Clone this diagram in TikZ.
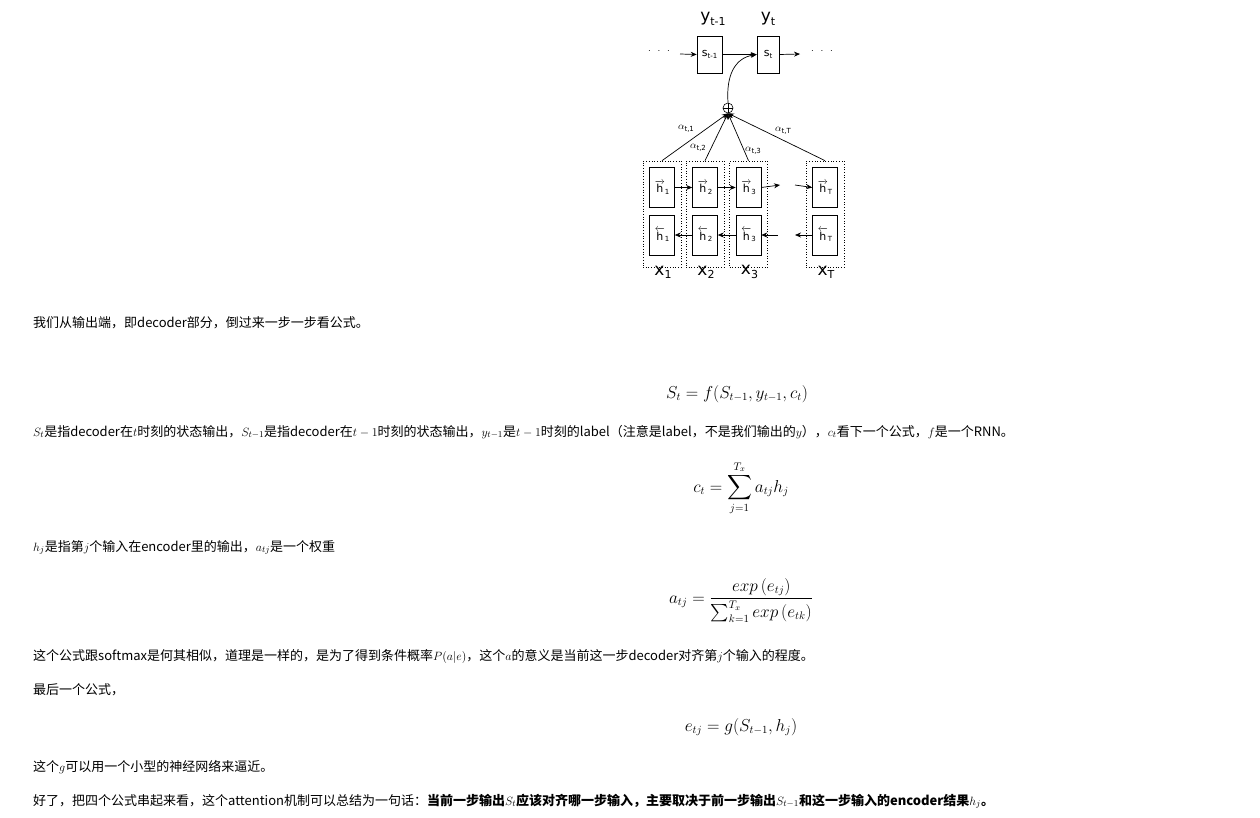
\documentclass[tikz,border=0pt]{standalone}
\usepackage[no-math]{fontspec}
\usepackage{amsmath}
\setmainfont{Noto Sans CJK SC}
\newfontfamily\dia{DejaVu Sans}
\usetikzlibrary{arrows.meta}
\newcommand\sbx[4]{{\fontsize{#3}{#3}\dia #1\raisebox{-0.35ex}{\fontsize{#4}{#4}\selectfont #2}}}
\newcommand\hr[1]{$\overrightarrow{\hbox{\fontsize{11}{11}\dia h}}$\raisebox{-0.3ex}{\fontsize{7}{7}\dia #1}}
\newcommand\hl[1]{$\overleftarrow{\hbox{\fontsize{11}{11}\dia h}}$\raisebox{-0.3ex}{\fontsize{7}{7}\dia #1}}
\tikzset{
 txt/.style={anchor=base west,inner sep=0pt,font=\fontsize{13}{15}\selectfont},
 eq/.style={anchor=base,inner sep=0pt,font=\fontsize{16}{18}\selectfont},
 cell/.style={draw,line width=0.6pt,minimum width=25pt,minimum height=40pt,inner sep=0pt},
 col/.style={draw,dotted,line width=0.7pt,minimum width=38pt,minimum height=106pt,inner sep=0pt},
 arr/.style={-{Stealth[length=6pt,width=5pt]},line width=0.7pt}
}
\begin{document}
\begin{tikzpicture}[x=1pt,y=-1pt]
\useasboundingbox (0,0) rectangle (1260,817);
\fill[white] (0,0) rectangle (1260,817);
% decoder
\node[cell,minimum width=25pt,minimum height=37pt] (s1) at (709.5,54.5) {\sbx{s}{t-1}{11}{7}};
\node[cell,minimum width=22pt,minimum height=37pt] (s2) at (768,54.5) {\sbx{s}{t}{11}{7}};
\node (y1) at (713,19) {\sbx{y}{t-1}{17}{11}};
\node (y2) at (768,19) {\sbx{y}{t}{17}{11}};
\node[inner sep=0pt,font=\fontsize{10}{10}\selectfont] (dl) at (659,51) {$\cdot\ \ \cdot\ \ \cdot$};
\node[inner sep=0pt,font=\fontsize{10}{10}\selectfont] (dr) at (822,51) {$\cdot\ \ \cdot\ \ \cdot$};
\coordinate (in1) at (680,54);
\coordinate (out2) at (800,54);
\draw[arr] (in1) -- (s1.west);
\draw[arr,line width=1.3pt] (s1.east) -- (s2.west);
\draw[arr] (s2.east) -- (out2);
\node[draw,circle,inner sep=0pt,minimum size=10pt,line width=0.6pt] (op) at (728,108) {};
\draw[line width=0.6pt] (op.north) -- (op.south) (op.west) -- (op.east);
\draw[arr] (op.north) .. controls (726,75) and (735,58) .. (s2.west);
% encoder columns
\foreach \n/\x/\lab in {1/662/1,2/705/2,3/748.5/3,4/825/T}{
 \node[col] (c\n) at (\x,214) {};
 \node[cell] (f\n) at (\x,187.5) {\hr{\lab}};
 \node[cell] (b\n) at (\x,235) {\hl{\lab}};
 \node (x\n) at (\x+1,272) {\sbx{x}{\lab}{17}{11}};
 \draw[arr] (c\n.north) -- (op.south);
}
\draw[arr] (f1.east) -- (f2.west);
\draw[arr] (f2.east) -- (f3.west);
\coordinate (fo) at (780,185);
\coordinate (fi) at (795,185);
\draw[arr] (f3.east) -- (fo);
\draw[arr] (fi) -- (f4.west);
\draw[arr] (b2.west) -- (b1.east);
\draw[arr] (b3.west) -- (b2.east);
\coordinate (bo) at (778,235);
\coordinate (bi) at (795,235);
\draw[arr] (b4.west) -- (bi);
\draw[arr] (bo) -- (b3.east);
\node (a1) at (686,129) {\sbx{$\alpha$}{t,1}{10}{7}};
\node (a2) at (698,148) {\sbx{$\alpha$}{t,2}{10}{7}};
\node (a3) at (753,151) {\sbx{$\alpha$}{t,3}{10}{7}};
\node (a4) at (783,131) {\sbx{$\alpha$}{t,T}{10}{7}};
% text
\node[txt] (l1) at (33,327) {我们从输出端，即decoder部分，倒过来一步一步看公式。};
\node[eq] (e1) at (737,398) {$S_t=f(S_{t-1},y_{t-1},c_t)$};
\node[txt] (l2) at (33,436) {$S_t$是指decoder在$t$时刻的状态输出，$S_{t-1}$是指decoder在$t-1$时刻的状态输出，$y_{t-1}$是$t-1$时刻的label（注意是label，不是我们输出的$y$），$c_t$看下一个公式，$f$是一个RNN。};
\node[eq] (e2) at (741,492) {$c_t=\displaystyle\sum_{j=1}^{T_x}a_{tj}h_j$};
\node[txt] (l3) at (33,551) {$h_j$是指第$j$个输入在encoder里的输出，$a_{tj}$是一个权重};
\node[eq] (e3) at (741,603) {$a_{tj}=\dfrac{exp\,(e_{tj})}{\sum_{k=1}^{T_x}exp\,(e_{tk})}$};
\node[txt] (l4) at (33,660) {这个公式跟softmax是何其相似，道理是一样的，是为了得到条件概率$P(a|e)$，这个$a$的意义是当前这一步decoder对齐第$j$个输入的程度。};
\node[txt] (l5) at (33,694) {最后一个公式，};
\node[eq] (e4) at (741,731) {$e_{tj}=g(S_{t-1},h_j)$};
\node[txt] (l6) at (33,771) {这个$g$可以用一个小型的神经网络来逼近。};
\node[txt] (l7) at (33,805) {好了，把四个公式串起来看，这个attention机制可以总结为一句话：\textbf{当前一步输出$S_t$应该对齐哪一步输入，主要取决于前一步输出$S_{t-1}$和这一步输入的encoder结果$h_j$。}};
\end{tikzpicture}
\end{document}
